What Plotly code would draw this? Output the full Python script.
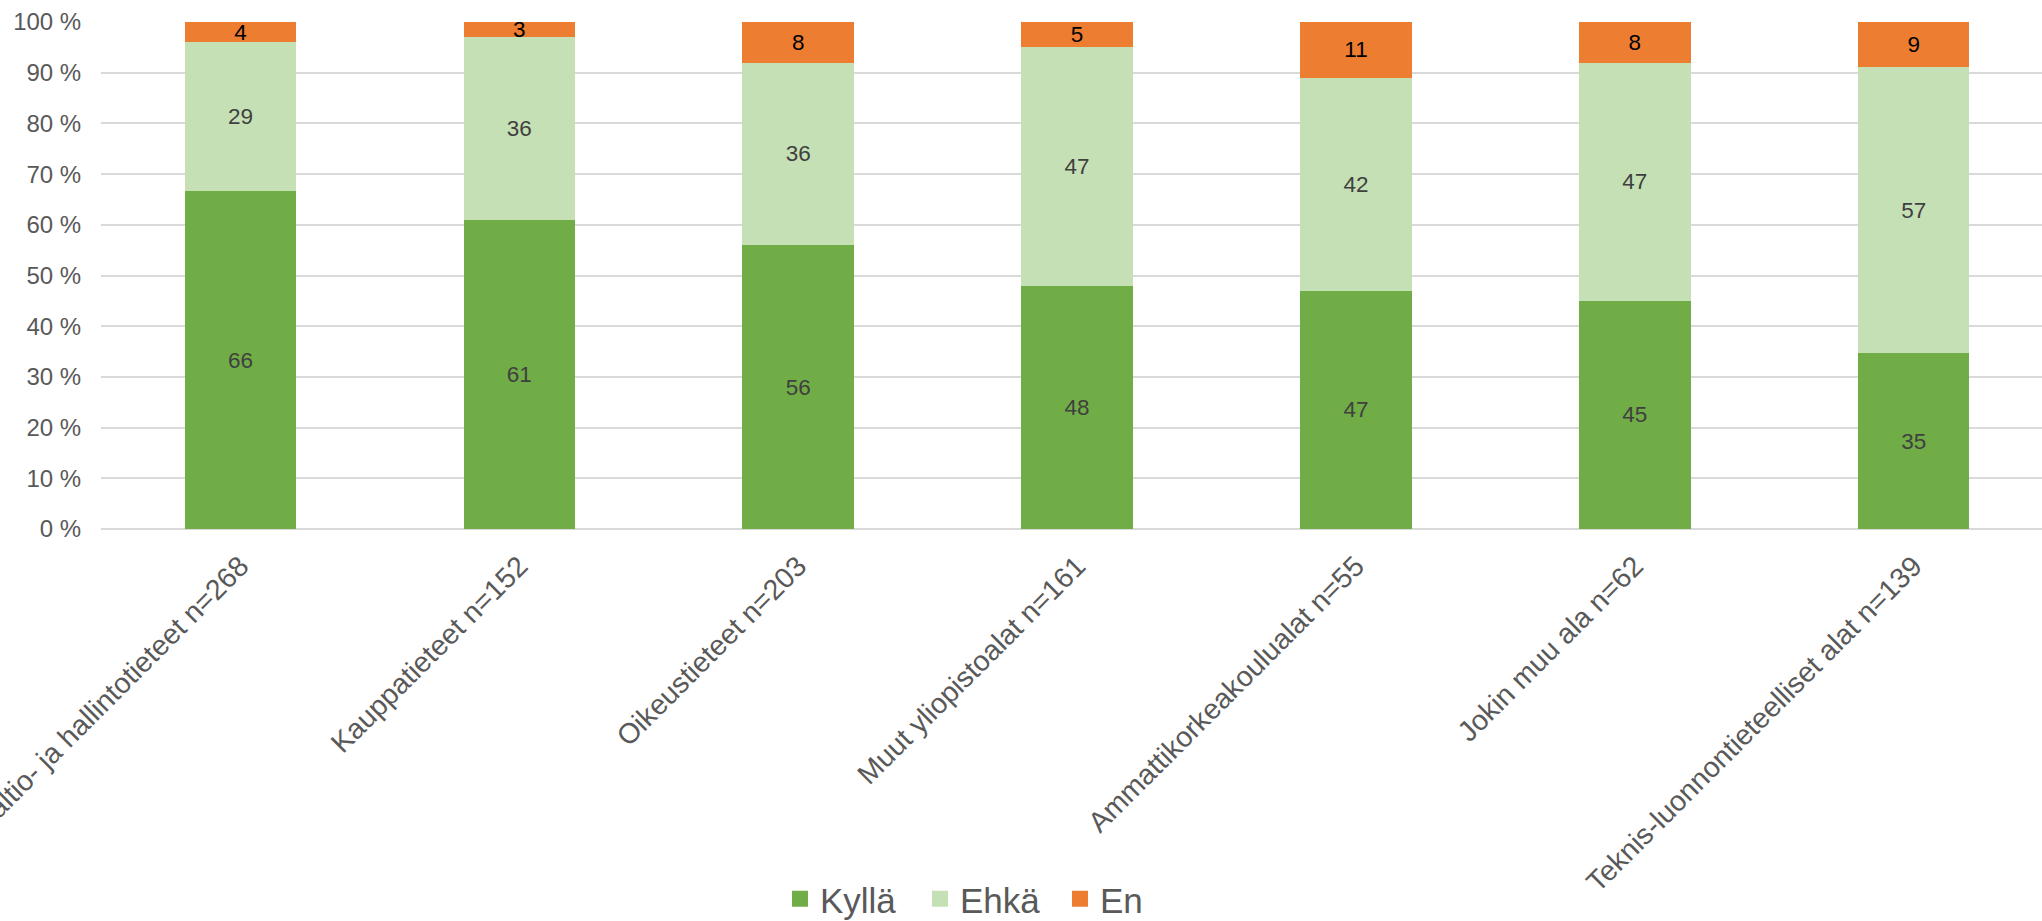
import plotly.graph_objects as go

categories = [
    "Valtio- ja hallintotieteet n=268",
    "Kauppatieteet n=152",
    "Oikeustieteet n=203",
    "Muut yliopistoalat n=161",
    "Ammattikorkeakoulualat n=55",
    "Jokin muu ala n=62",
    "Teknis-luonnontieteelliset alat n=139",
]
kylla = [66, 61, 56, 48, 47, 45, 35]
ehka = [29, 36, 36, 47, 42, 47, 57]
en = [4, 3, 8, 5, 11, 8, 9]

series_names = ["Kyllä", "Ehkä", "En"]
series_values = [kylla, ehka, en]
series_colors = ["#70AD47", "#C5E0B4", "#ED7D31"]
label_colors = ["#404040", "#404040", "#000000"]

y_ticks = list(range(0, 101, 10))
y_ticktext = [f"{v} %" for v in y_ticks]

FONT = "Liberation Sans, Arial, sans-serif"

fig = go.Figure()
for name, vals, col, lc in zip(series_names, series_values, series_colors, label_colors):
    fig.add_trace(go.Bar(
        x=categories, y=vals, name=name,
        marker=dict(color=col, line=dict(width=0)),
        text=[str(v) for v in vals],
        textposition="inside", insidetextanchor="middle",
        constraintext="none", textangle=0,
        textfont=dict(family=FONT, size=22.5, color=lc),
        showlegend=False, hoverinfo="skip",
    ))
# legend proxies (larger square swatches)
for name, col in zip(series_names, series_colors):
    fig.add_trace(go.Scatter(
        x=[None], y=[None], mode="markers", name=name,
        marker=dict(symbol="square", size=19, color=col),
        showlegend=True,
    ))

fig.update_layout(
    width=2042, height=921,
    margin=dict(l=101, r=0, t=22, b=392, autoexpand=False),
    barmode="stack", barnorm="percent", bargap=0.6,
    plot_bgcolor="white", paper_bgcolor="white",
    uniformtext=dict(minsize=22, mode="show"),
    font=dict(family=FONT, color="#595959"),
    legend=dict(
        orientation="h", x=0.458, xanchor="center", y=-0.73, yanchor="middle",
        font=dict(family=FONT, size=35, color="#595959"),
        itemsizing="trace", traceorder="normal",
        entrywidth=95, entrywidthmode="pixels",
        bgcolor="rgba(0,0,0,0)",
    ),
    showlegend=True,
)
fig.update_xaxes(
    type="category", range=[-0.5, 6.46], automargin=False,
    tickangle=-45, tickfont=dict(family=FONT, size=28.5, color="#595959"),
    showgrid=False, showline=False, ticks="outside", ticklen=8,
    tickcolor="rgba(0,0,0,0)",
)
fig.update_yaxes(
    range=[0, 100], tickvals=y_ticks, ticktext=y_ticktext, automargin=False,
    tickfont=dict(family=FONT, size=24, color="#595959"),
    showgrid=True, gridcolor="#D9D9D9", gridwidth=2,
    zeroline=True, zerolinecolor="#D9D9D9", zerolinewidth=2,
    ticks="outside", ticklen=14, tickcolor="rgba(0,0,0,0)",
    showline=False,
)

fig.write_html(
    "out.html",
    config={"displayModeBar": False},
    post_script="document.body.style.margin='0';document.body.style.overflow='hidden';",
)
